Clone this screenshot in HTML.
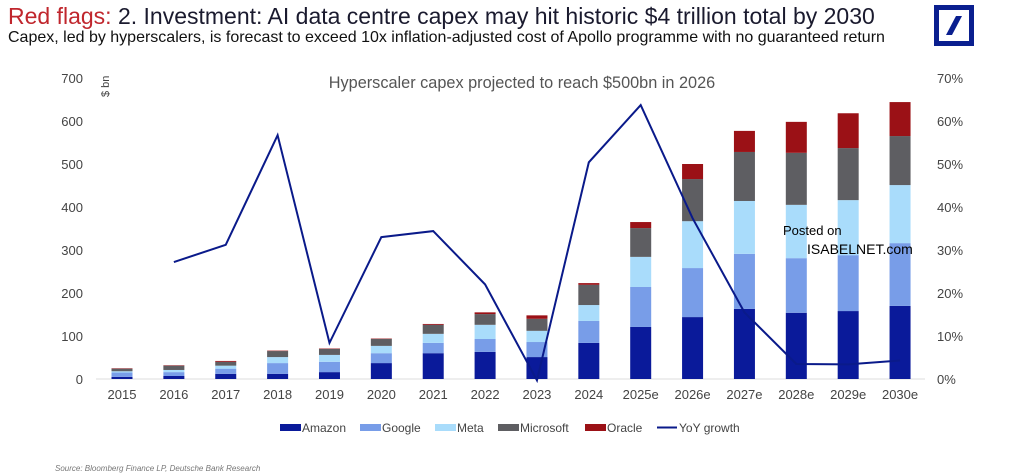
<!DOCTYPE html>
<html><head><meta charset="utf-8"><style>
body{margin:0;width:1024px;height:476px;background:#fff;overflow:hidden;font-family:"Liberation Sans",sans-serif;position:relative}
.t{position:absolute;white-space:nowrap}
</style></head><body>
<div class="t" style="left:8px;top:3px;font-size:23px;color:#1a1a2e"><span style="color:#c0262d">Red flags:</span> 2. Investment: AI data centre capex may hit historic $4 trillion total by 2030</div>
<div class="t" style="left:8px;top:29px;font-size:16px;color:#111">Capex, led by hyperscalers, is forecast to exceed 10x inflation-adjusted cost of Apollo programme with no guaranteed return</div>
<svg style="position:absolute;left:934px;top:5px" width="40" height="41"><rect x="2.5" y="2.5" width="35" height="36" fill="none" stroke="#0a1f8f" stroke-width="5"/><polygon points="22,11 28,11 18,30 12,30" fill="#0a1f8f"/></svg>
<svg id="chart" style="position:absolute;left:0;top:0" width="1024" height="476"></svg>
<div class="t" style="left:55px;top:464px;font-size:8px;font-style:italic;color:#777">Source: Bloomberg Finance LP, Deutsche Bank Research</div>
<div class="t" style="left:783px;top:221px;font-size:13px;color:#000;line-height:19px">Posted on<br><span style="margin-left:24px;font-size:14px">ISABELNET.com</span></div>
<script>
const categories=["2015","2016","2017","2018","2019","2020","2021","2022","2023","2024","2025e","2026e","2027e","2028e","2029e","2030e"];
const amazon=[5,7,12,12,16,37,60,63,51,84,121,144,163,154,158,170];
const google=[10,9,12,25,24,23,24,30,35,51,93,114,128,127,130,146];
const meta=[3,5,7,14,16,17,21,33,26,37,70,109,123,124,128,135];
const microsoft=[6,10,9,14,14,16,21,25,28,47,67,98,114,121,121,114];
const oracle=[1,1,2,1,1,1,2,4,8,4,14,35,49,72,81,79];
const growth=[null,27.2,31.2,56.7,8.4,33,34.4,22,-0.3,50.4,63.7,37.4,15.5,3.5,3.4,4.3];
const leftTicks=[0,100,200,300,400,500,600,700];
const rightTicks=["0%","10%","20%","30%","40%","50%","60%","70%"];
const series=[["amazon",amazon,"#0a1a9a"],["google",google,"#789de8"],["meta",meta,"#a9dcfb"],["microsoft",microsoft,"#5e5e62"],["oracle",oracle,"#9b1116"]];
const svg=document.getElementById('chart');const NS="http://www.w3.org/2000/svg";
const y0=379,y1=78;
const yL=v=>y0-(v/700)*(y0-y1);
const yR=p=>y0-(p/70)*(y0-y1);
const xC=i=>122+i*51.87;
function mk(t,a,p){const e=document.createElementNS(NS,t);for(const k in a)e.setAttribute(k,a[k]);(p||svg).appendChild(e);return e;}
leftTicks.forEach((v,i)=>{const t=mk('text',{x:83,y:yL(v)+5,'text-anchor':'end','font-size':13,fill:'#444','font-family':'Liberation Sans'});t.textContent=v;


const r=mk('text',{x:937,y:yL(v)+5,'font-size':13,fill:'#444','font-family':'Liberation Sans'});r.textContent=rightTicks[i];

});
const u=mk('text',{x:0,y:0,'font-size':11,fill:'#444',transform:'translate(109,97) rotate(-90)','font-family':'Liberation Sans'});u.textContent='$ bn';


const st=mk('text',{x:522,y:88,'text-anchor':'middle','font-size':16.3,fill:'#555','font-family':'Liberation Sans'});st.textContent='Hyperscaler capex projected to reach $500bn in 2026';


const ax=mk('line',{x1:96,x2:925,y1:y0,y2:y0,stroke:'#ddd','stroke-width':1});


categories.forEach((c,i)=>{let cum=0;
series.forEach(([n,arr,col])=>{const v=arr[i];const r=mk('rect',{x:xC(i)-10.5,y:yL(cum+v),width:21,height:yL(cum)-yL(cum+v),fill:col});

cum+=v;});
const t=mk('text',{x:xC(i),y:399,'text-anchor':'middle','font-size':13,fill:'#444','font-family':'Liberation Sans'});t.textContent=c;

});
let d='';growth.forEach((g,i)=>{if(g===null)return;d+=(d?'L':'M')+xC(i)+','+yR(g);});
const ln=mk('path',{d:d,fill:'none',stroke:'#0a1a8a','stroke-width':2});


const leg=[["Amazon","#0a1a9a",280],["Google","#789de8",360],["Meta","#a9dcfb",435],["Microsoft","#5e5e62",498],["Oracle","#9b1116",585]];
leg.forEach(([n,c,x])=>{const r=mk('rect',{x:x,y:424,width:21,height:7,fill:c});


const t=mk('text',{x:x+22,y:432,'font-size':12,fill:'#444','font-family':'Liberation Sans'});t.textContent=n;

});
const ll=mk('line',{x1:657,x2:677,y1:427.5,y2:427.5,stroke:'#0a1a8a','stroke-width':2});


const lt=mk('text',{x:679,y:432,'font-size':12,fill:'#444','font-family':'Liberation Sans'});lt.textContent='YoY growth';


</script>
</body></html>
